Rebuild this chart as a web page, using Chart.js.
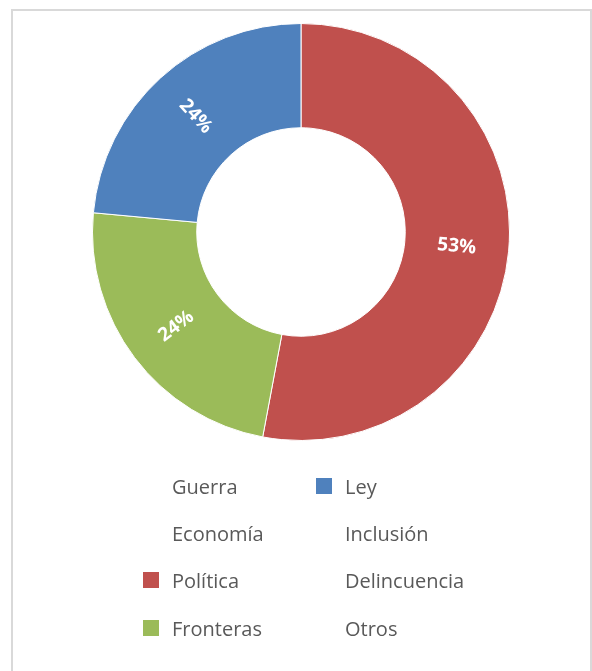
<!DOCTYPE html>
<html>
<head>
<meta charset="utf-8">
<script src="https://cdn.jsdelivr.net/npm/chart.js@4.4.1/dist/chart.umd.min.js"></script>
<style>
  html, body { margin: 0; padding: 0; background: #ffffff; width: 592px; height: 671px; overflow: hidden; }
  #frame { position: absolute; left: 11px; top: 9px; width: 577px; height: 700px; border: 2px solid #d9d9d9; box-sizing: content-box; }
  #chart { position: absolute; left: 92px; top: 23px; }
  #legend { position: absolute; left: 0; top: 0; width: 592px; height: 671px; pointer-events: none; }
  .item { position: absolute; height: 24px; display: flex; align-items: center; font-family: "Open Sans", sans-serif; font-size: 20px; color: #595959; white-space: nowrap; }
  .box { width: 16px; height: 16px; margin-right: 13px; flex: none; }
</style>
</head>
<body>
<div id="frame"></div>
<canvas id="chart" width="418" height="418"></canvas>
<div id="legend"></div>
<script>
// Data (order as in the source series; legend is laid out column by column)
const categories = ['Guerra', 'Economía', 'Política', 'Fronteras', 'Ley', 'Inclusión', 'Delincuencia', 'Otros'];
const values = [0, 0, 9, 4, 4, 0, 0, 0];
const colors = ['#ffffff', '#ffffff', '#c0504d', '#9bbb59', '#4f81bd', '#ffffff', '#ffffff', '#ffffff'];

const legendRows = 4;
const legendColX = [143, 316];
const legendRowY = [474, 521, 568, 616];

const sliceLabels = {
  id: 'sliceLabels',
  afterDatasetsDraw(chart) {
    const ctx = chart.ctx;
    const meta = chart.getDatasetMeta(0);
    const data = chart.data.datasets[0].data;
    const total = data.reduce((a, b) => a + b, 0);
    ctx.save();
    ctx.fillStyle = '#ffffff';
    ctx.font = 'bold 19px "Open Sans", sans-serif';
    ctx.textAlign = 'center';
    ctx.textBaseline = 'middle';
    meta.data.forEach((arc, i) => {
      if (!data[i]) return;
      const p = arc.getProps(['x', 'y', 'startAngle', 'endAngle', 'innerRadius', 'outerRadius'], true);
      const mid = (p.startAngle + p.endAngle) / 2;
      const r = (p.innerRadius + p.outerRadius) / 2;
      const x = p.x + Math.cos(mid) * r;
      const y = p.y + Math.sin(mid) * r;
      let rot = mid;
      while (rot > Math.PI / 2) rot -= Math.PI;
      while (rot <= -Math.PI / 2) rot += Math.PI;
      ctx.save();
      ctx.translate(x, y);
      ctx.rotate(rot);
      ctx.fillText(Math.round(data[i] / total * 100) + '%', 0, 0);
      ctx.restore();
    });
    ctx.restore();
  }
};

const htmlLegend = {
  id: 'htmlLegend',
  afterUpdate(chart) {
    const el = document.getElementById('legend');
    el.innerHTML = '';
    const items = chart.options.plugins.legend.labels.generateLabels(chart);
    items.forEach((it, i) => {
      const col = Math.floor(i / legendRows);
      const row = i % legendRows;
      const div = document.createElement('div');
      div.className = 'item';
      div.style.left = legendColX[col] + 'px';
      div.style.top = legendRowY[row] + 'px';
      const box = document.createElement('span');
      box.className = 'box';
      box.style.background = it.fillStyle;
      const txt = document.createElement('span');
      txt.textContent = it.text;
      div.appendChild(box);
      div.appendChild(txt);
      el.appendChild(div);
    });
  }
};

new Chart(document.getElementById('chart'), {
  type: 'doughnut',
  data: {
    labels: categories,
    datasets: [{
      data: values,
      backgroundColor: colors,
      borderColor: '#ffffff',
      borderWidth: 1
    }]
  },
  options: {
    responsive: false,
    animation: false,
    cutout: '50%',
    layout: { padding: 0 },
    plugins: {
      legend: { display: false },
      tooltip: { enabled: false }
    }
  },
  plugins: [sliceLabels, htmlLegend]
});
</script>
</body>
</html>
